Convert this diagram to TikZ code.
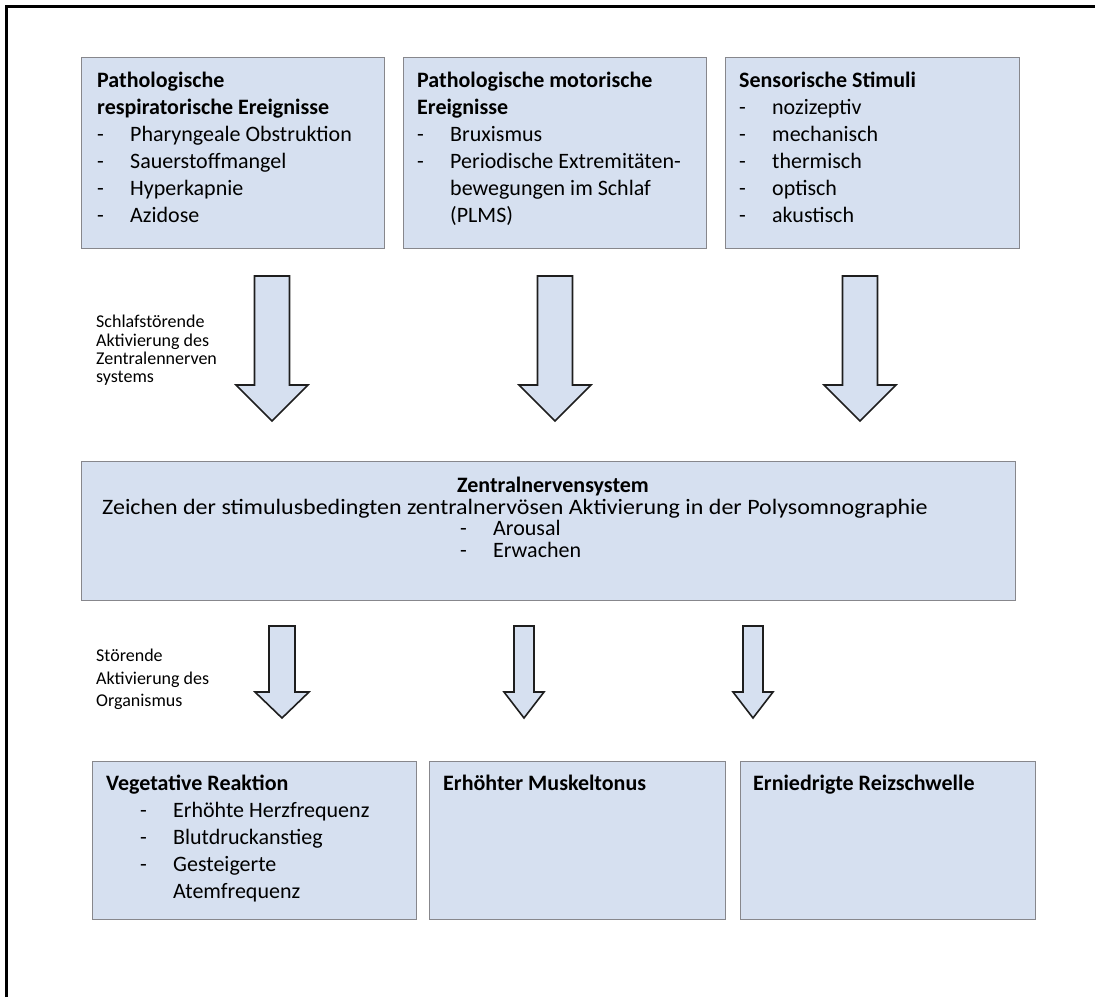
\documentclass[tikz,border=0pt]{standalone}
\usepackage{fontspec}
\setmainfont{Carlito}
\usetikzlibrary{positioning}

\definecolor{boxfill}{RGB}{214,224,240}
\definecolor{boxline}{RGB}{135,135,140}
\definecolor{arrline}{RGB}{30,30,30}

\tikzset{
  box/.style={draw=boxline, fill=boxfill, line width=1pt, inner sep=0pt, anchor=north west},
  txt/.style={inner sep=0pt, anchor=north west, align=left, font=\fontsize{22}{27}\selectfont},
  sidelabel/.style={inner sep=0pt, anchor=north west, align=left},
  bigarrow/.style={draw=arrline, fill=boxfill, line width=1.6pt, line join=miter}
}

% bullet and continuation lines
\newcommand{\itm}[1]{\makebox[33pt][l]{-}#1}
\newcommand{\cnt}[1]{\hspace*{33pt}#1}
% block arrow: x, top, head start, tip, half shaft, half head
\newcommand{\blockarrow}[6]{%
  \draw[bigarrow] (#1-#5,#2) -- (#1+#5,#2) -- (#1+#5,#3) -- (#1+#6,#3)
    -- (#1,#4) -- (#1-#6,#3) -- (#1-#5,#3) -- cycle;}

\begin{document}
\begin{tikzpicture}[x=1pt,y=-1pt]
    \useasboundingbox (0,0) rectangle (1095,997);
    \draw[line width=2.5pt] (6.5,997) -- (6.5,6.5) -- (1095,6.5);

    % top row
    \node[box, minimum width=303pt, minimum height=191pt] (resp) at (81,57) {};
    \node[box, minimum width=303pt, minimum height=191pt] (motor) at (403,57) {};
    \node[box, minimum width=294pt, minimum height=191pt] (sens) at (725,57) {};

    \node[txt] (respT) at (97,72) {\textbf{Pathologische}\\\textbf{respiratorische Ereignisse}\\
        \itm{Pharyngeale Obstruktion}\\\itm{Sauerstoffmangel}\\\itm{Hyperkapnie}\\\itm{Azidose}};
    \node[txt] (motorT) at (417,72) {\textbf{Pathologische motorische}\\\textbf{Ereignisse}\\
        \itm{Bruxismus}\\\itm{Periodische Extremitäten-}\\\cnt{bewegungen im Schlaf}\\\cnt{(PLMS)}};
    \node[txt] (sensT) at (739,72) {\textbf{Sensorische Stimuli}\\\itm{nozizeptiv}\\\itm{mechanisch}\\
        \itm{thermisch}\\\itm{optisch}\\\itm{akustisch}};

    % arrows to the CNS
    \blockarrow{272}{276}{385}{421}{17.5}{36}
    \blockarrow{555}{276}{385}{421}{17.5}{36}
    \blockarrow{860}{276}{385}{421}{17.5}{36}
    \node[sidelabel, font=\fontsize{18}{18.3}\selectfont] (zns) at (96,315)
        {Schlafstörende\\Aktivierung des\\Zentralennerven\\systems};

    % middle
    \node[box, minimum width=934pt, minimum height=139pt] (cns) at (81,461) {};
    \node[inner sep=0pt, anchor=north, font=\fontsize{22}{22}\selectfont] (cnsT) at (553,477)
        {\textbf{Zentralnervensystem}};
    \node[inner sep=0pt, anchor=north west, font=\fontsize{22}{22}\selectfont] (cnsS) at (102,499)
        {\scalebox{1.09}[1]{Zeichen der stimulusbedingten zentralnervösen Aktivierung in der Polysomnographie}};
    \node[txt, font=\fontsize{22}{22}\selectfont] (cnsL) at (460,520) {\itm{Arousal}\\\itm{Erwachen}};

    % arrows to the organism
    \blockarrow{282}{626}{692}{718}{13}{27}
    \blockarrow{524}{626}{692}{718}{10}{20}
    \blockarrow{753}{626}{692}{718}{10}{20}
    \node[sidelabel, font=\fontsize{18}{22.5}\selectfont] (org) at (96,649)
        {Störende\\Aktivierung des\\Organismus};

    % bottom row
    \node[box, minimum width=324pt, minimum height=158pt] (veg) at (92,761) {};
    \node[box, minimum width=296pt, minimum height=158pt] (musk) at (429,761) {};
    \node[box, minimum width=295pt, minimum height=158pt] (reiz) at (740,761) {};

    \node[txt] (vegT) at (106,775) {\textbf{Vegetative Reaktion}\\\hspace*{34pt}\itm{Erhöhte Herzfrequenz}\\
        \hspace*{34pt}\itm{Blutdruckanstieg}\\\hspace*{34pt}\itm{Gesteigerte}\\\hspace*{34pt}\cnt{Atemfrequenz}};
    \node[txt] (muskT) at (443,775) {\textbf{Erhöhter Muskeltonus}};
    \node[txt] (reizT) at (753,775) {\textbf{Erniedrigte Reizschwelle}};
\end{tikzpicture}
\end{document}
